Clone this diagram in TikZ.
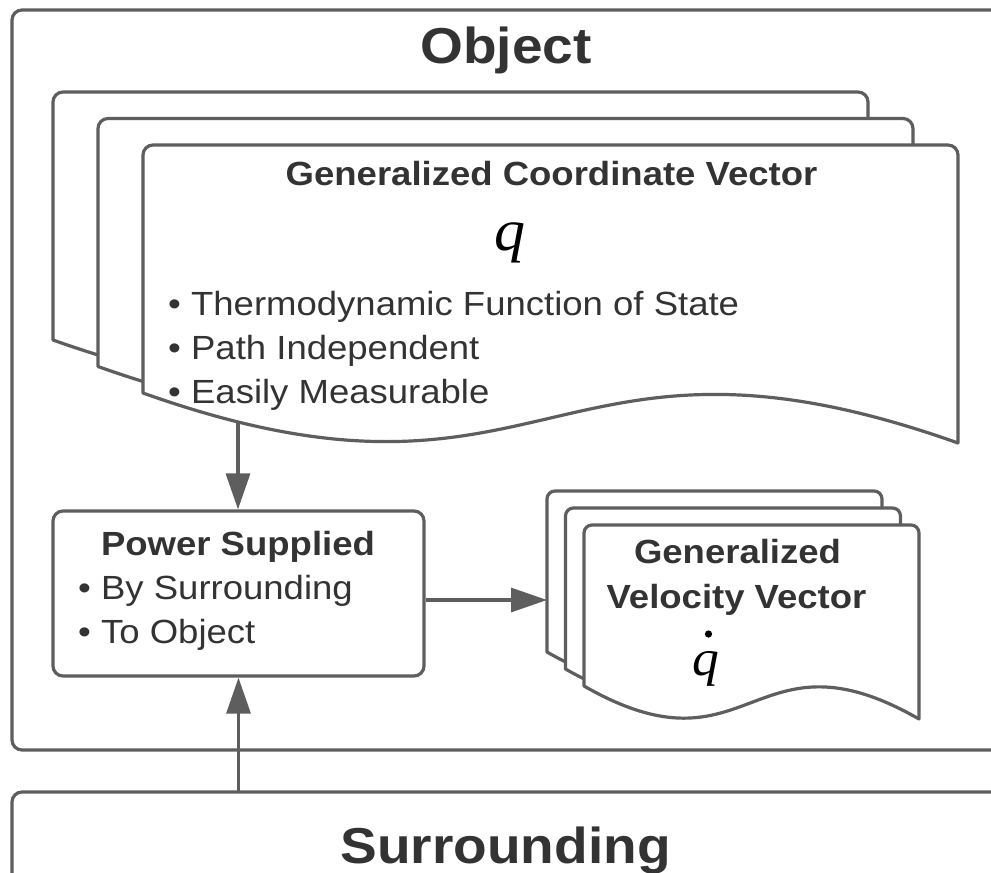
\documentclass[tikz,border=0pt]{standalone}
\usepackage{fontspec}
\setmainfont{Liberation Sans}[FakeStretch=1.09]
\newfontfamily\letterfont{Liberation Serif}[FakeStretch=1.05]
\usetikzlibrary{arrows.meta}

\definecolor{edge}{RGB}{94,94,94}
\definecolor{ink}{RGB}{51,51,51}

\tikzset{
  frame/.style={draw=edge,line width=3.2pt,rounded corners=10pt},
  card/.style={draw=edge,line width=3.2pt,fill=white,line join=round},
  box/.style={draw=edge,line width=3.2pt,fill=white,rounded corners=10pt,inner sep=0pt},
  body/.style={text=ink,inner sep=0pt,font=\fontsize{33.5}{40}\selectfont},
  head/.style={text=ink,inner sep=0pt,font=\fontsize{33.5}{40}\selectfont\bfseries},
  title/.style={text=ink,inner sep=0pt,font=\fontsize{50.5}{60}\selectfont\bfseries},
  symbol/.style={text=black,inner sep=0pt},
  link/.style={draw=edge,line width=3.2pt,-{Triangle[length=36pt,width=24pt]}},
}

% document-shaped card: top-left corner (#1,#2), width #3, height of the
% left side #4, extra drop of the right side #5, bulge of the wavy bottom #6,
% radius of the two top corners #7
\newcommand\wavecard[7]{%
  \draw[card] (#1,#2+#4) -- (#1,#2+#7)
    arc[start angle=180,end angle=270,radius=#7]
    -- (#1+#3-#7,#2)
    arc[start angle=270,end angle=360,radius=#7]
    -- (#1+#3,#2+#4+#5)
    .. controls (#1+#3/2,#2+#4+#5-#6) and (#1+#3/2,#2+#4+#6) .. (#1,#2+#4)
    -- cycle;}

\begin{document}
\begin{tikzpicture}[x=1pt,y=-1pt]
\clip (0,0) rectangle (991,873);
\fill[white] (0,0) rectangle (991,873);

% outer frames
\draw[frame] (12,10) rectangle (1030,750);
\draw[frame] (12,792) rectangle (1030,930);
\node[title,anchor=base] (objtitle) at (506,63) {Object};
\node[title,anchor=base] (surrtitle) at (505.5,863) {Surrounding};

% stack of generalized coordinate cards
\wavecard{53}{92}{815}{248}{50}{145}{10}
\wavecard{98}{118.5}{815}{248}{50}{145}{10}
\wavecard{143}{145}{815}{248}{50}{145}{10}
\node[head,anchor=base] (gcvhead) at (551.5,185) {Generalized Coordinate Vector};
\node[symbol,anchor=base,font=\fontsize{59}{64}\selectfont\letterfont\itshape] (gcvq) at (510,250) {q};
\node[body,anchor=base west] (gcvb1) at (168,315) {• Thermodynamic Function of State};
\node[body,anchor=base west] (gcvb2) at (168,359) {• Path Independent};
\node[body,anchor=base west] (gcvb3) at (168,403) {• Easily Measurable};
\coordinate (gcvfoot) at (238,422);

% stack of generalized velocity cards
\wavecard{547}{491}{335}{161}{33}{96}{8}
\wavecard{565.5}{508}{335}{161}{33}{96}{8}
\wavecard{584}{525}{335}{161}{33}{96}{8}
\node[head,anchor=base] (gvvhead1) at (737.5,563) {Generalized};
\node[head,anchor=base] (gvvhead2) at (736.5,608) {Velocity Vector};
\node[symbol,anchor=base,font=\fontsize{51}{56}\selectfont\letterfont\itshape] (gvvq) at (706,675) {q};
\fill[black] (708.5,634) circle[radius=3.6];
\coordinate (gvvin) at (547,600);

% power box
\node[box,minimum width=371pt,minimum height=165pt] (power) at (238.5,593.5) {};
\node[head,anchor=base] (pwrhead) at (238,555) {Power Supplied};
\node[body,anchor=base west] (pwrb1) at (78,599) {• By Surrounding};
\node[body,anchor=base west] (pwrb2) at (78,643) {• To Object};

\coordinate (surrtop) at (238.5,792);

% connectors
\draw[link] (gcvfoot) -- (gcvfoot |- power.north);
\draw[link] (power.east |- gvvin) -- (gvvin);
\draw[link] (surrtop) -- (power.south);
\end{tikzpicture}
\end{document}
